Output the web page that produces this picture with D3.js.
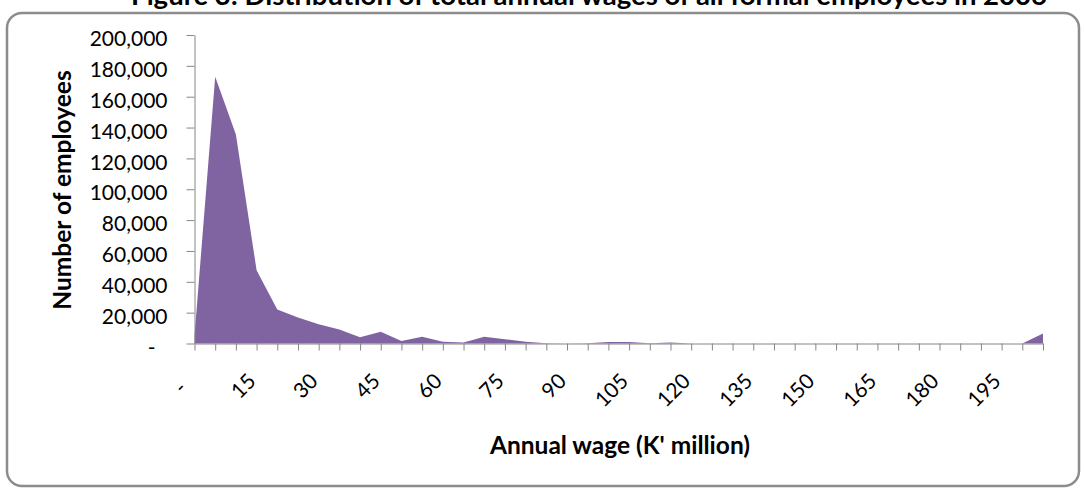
<!DOCTYPE html>
<html>
<head>
<meta charset="utf-8">
<script src="https://cdn.jsdelivr.net/npm/d3@7"></script>
<style>
  html, body { margin: 0; padding: 0; background: #ffffff; }
  svg { display: block; }
  text { font-family: Lato, "Open Sans", sans-serif; fill: #000; }
</style>
</head>
<body>
<svg id="chart" width="1084" height="491"></svg>
<script>
// ---- data ----
const titleText = "Figure 3: Distribution of total annual wages of all formal employees in 2006";
const xTitle = "Annual wage (K' million)";
const yTitle = "Number of employees";

const wageCategories = [0, 5, 10, 15, 20, 25, 30, 35, 40, 45, 50, 55, 60, 65, 70, 75, 80, 85, 90, 95,
  100, 105, 110, 115, 120, 125, 130, 135, 140, 145, 150, 155, 160, 165, 170, 175, 180, 185, 190, 195, 200, 205];

const employees = [5000, 173000, 135500, 47500, 22000, 16800, 12500, 9000, 4100, 7600,
  1700, 4300, 1100, 700, 4300, 2800, 1200, 200, 0, 100,
  900, 1000, 100, 700, 0, 0, 0, 0, 0, 0,
  0, 0, 0, 0, 0, 0, 0, 0, 0, 0, 0, 6500];

const labeledCategories = [0, 15, 30, 45, 60, 75, 90, 105, 120, 135, 150, 165, 180, 195];
const yTicks = [0, 20000, 40000, 60000, 80000, 100000, 120000, 140000, 160000, 180000, 200000];

// ---- layout ----
const svg = d3.select("#chart");
const plot = { left: 194.5, right: 1043, top: 35, bottom: 343.5 };
const axisColor = "#868686";
const fillColor = "#8064A2";

// chart border
svg.append("rect")
  .attr("x", 7).attr("y", 13)
  .attr("width", 1072).attr("height", 473)
  .attr("rx", 15).attr("ry", 15)
  .attr("fill", "#fff")
  .attr("stroke", "#8c8c8c")
  .attr("stroke-width", 2.5);

// title (mostly outside the view, as in reference)
svg.append("text")
  .attr("x", 589).attr("y", 5)
  .attr("text-anchor", "middle")
  .style("font-size", "27.5px").style("font-weight", "bold")
  .text(titleText);

const x = d3.scalePoint().domain(wageCategories).range([plot.left, plot.right]);
const y = d3.scaleLinear().domain([0, 200000]).range([plot.bottom, plot.top]);

const data = wageCategories.map((c, i) => ({ c, v: employees[i] }));

const area = d3.area()
  .x(d => x(d.c))
  .y0(y(0))
  .y1(d => y(d.v));

svg.append("path")
  .datum(data)
  .attr("d", area)
  .attr("fill", fillColor);

// Y axis
const fmt = d3.format(",");
const yAxis = d3.axisLeft(y)
  .tickValues(yTicks)
  .tickSize(8).tickSizeOuter(0).tickPadding(19)
  .tickFormat(d => d === 0 ? "-" : fmt(d));

const gy = svg.append("g")
  .attr("transform", `translate(${plot.left},0)`)
  .call(yAxis);
gy.select(".domain").attr("stroke", axisColor);
gy.selectAll(".tick line").attr("stroke", axisColor);
gy.selectAll(".tick text")
  .attr("font-family", null)
  .attr("font-size", null)
  .style("font-size", "21px")
  .attr("dy", "0.32em")
  .attr("y", 4)
  .attr("dx", d => d === 0 ? -12 : 0);

// X axis
const xAxis = d3.axisBottom(x)
  .tickValues(wageCategories)
  .tickSize(7).tickSizeOuter(0)
  .tickFormat(d => labeledCategories.includes(d) ? (d === 0 ? "-" : String(d)) : "");

const gx = svg.append("g")
  .attr("transform", `translate(0,${plot.bottom})`)
  .call(xAxis);
gx.select(".domain").attr("stroke", axisColor);
gx.selectAll(".tick line").attr("stroke", axisColor);
gx.selectAll(".tick text")
  .attr("font-family", null)
  .attr("font-size", null)
  .style("font-size", "21px")
  .attr("x", 0).attr("y", 0).attr("dy", 0)
  .attr("dx", d => d === 0 ? -10 : 0)
  .attr("text-anchor", "end")
  .attr("transform", "translate(0,39) rotate(-45)");

// axis titles
svg.append("text")
  .attr("x", 620).attr("y", 454)
  .attr("text-anchor", "middle")
  .style("font-size", "24.5px").style("font-weight", "bold")
  .text(xTitle);

svg.append("text")
  .attr("transform", "translate(71,190) rotate(-90)")
  .attr("text-anchor", "middle")
  .style("font-size", "24.5px").style("font-weight", "bold")
  .text(yTitle);
</script>
</body>
</html>
